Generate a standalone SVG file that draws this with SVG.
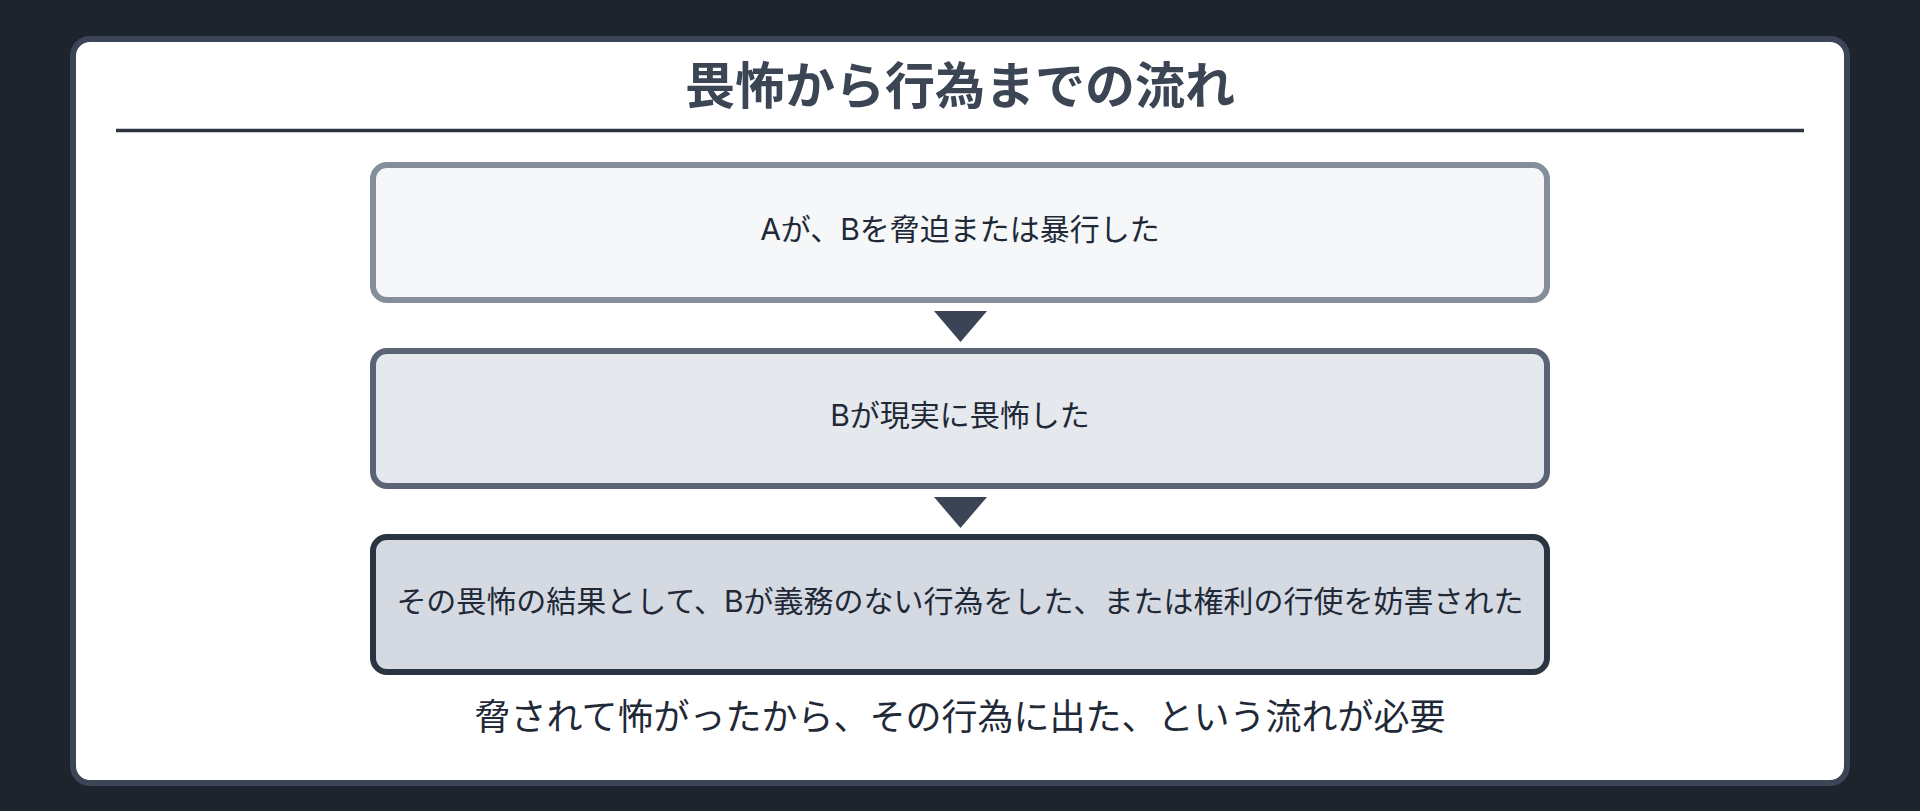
<svg xmlns="http://www.w3.org/2000/svg" width="1920" height="811" viewBox="0 0 1920 811">
  <style>
    .t { font-family: Inter, "Noto Sans CJK JP", "Noto Sans", sans-serif; text-anchor: middle; }
    .title { font-family: "Noto Sans CJK JP", sans-serif; font-size: 50px; font-weight: bold; fill: #3b4554; }
    .label { font-size: 30px; fill: #1f2937; }
    .note { font-size: 36px; fill: #1f2937; }
    .box { stroke-width: 6; }
    .arrow { fill: #3a4454; }
  </style>
  <rect x="0" y="0" width="1920" height="811" fill="#1e242e"/>
  <g id="card">
    <rect x="73" y="39" width="1774" height="744" rx="17" ry="17" fill="#ffffff" stroke="#3b4555" stroke-width="6"/>
    <text class="t title" x="960" y="104">畏怖から行為までの流れ</text>
    <line x1="116" y1="130.5" x2="1804" y2="130.5" stroke="#2d3340" stroke-width="3.3"/>
  </g>
  <g id="node1">
    <rect class="box" x="373" y="165" width="1174" height="135" rx="14" ry="14" fill="#f5f7f9" stroke="#858e9b"/>
    <text class="t label" x="960" y="240">Aが、Bを脅迫または暴行した</text>
  </g>
  <g id="node2">
    <rect class="box" x="373" y="351" width="1174" height="135" rx="14" ry="14" fill="#e5e8ec" stroke="#5a6474"/>
    <text class="t label" x="960" y="426">Bが現実に畏怖した</text>
  </g>
  <g id="node3">
    <rect class="box" x="373" y="537" width="1174" height="135" rx="14" ry="14" fill="#d5dae2" stroke="#2b3441"/>
    <text class="t label" x="960" y="612">その畏怖の結果として、Bが義務のない行為をした、または権利の行使を妨害された</text>
  </g>
  <g id="connectors">
    <polygon class="arrow" points="934,311 987,311 960.5,342"/>
    <polygon class="arrow" points="934,497 987,497 960.5,528"/>
  </g>
  <g id="footnote">
    <text class="t note" x="960" y="730">脅されて怖がったから、その行為に出た、という流れが必要</text>
  </g>
</svg>
